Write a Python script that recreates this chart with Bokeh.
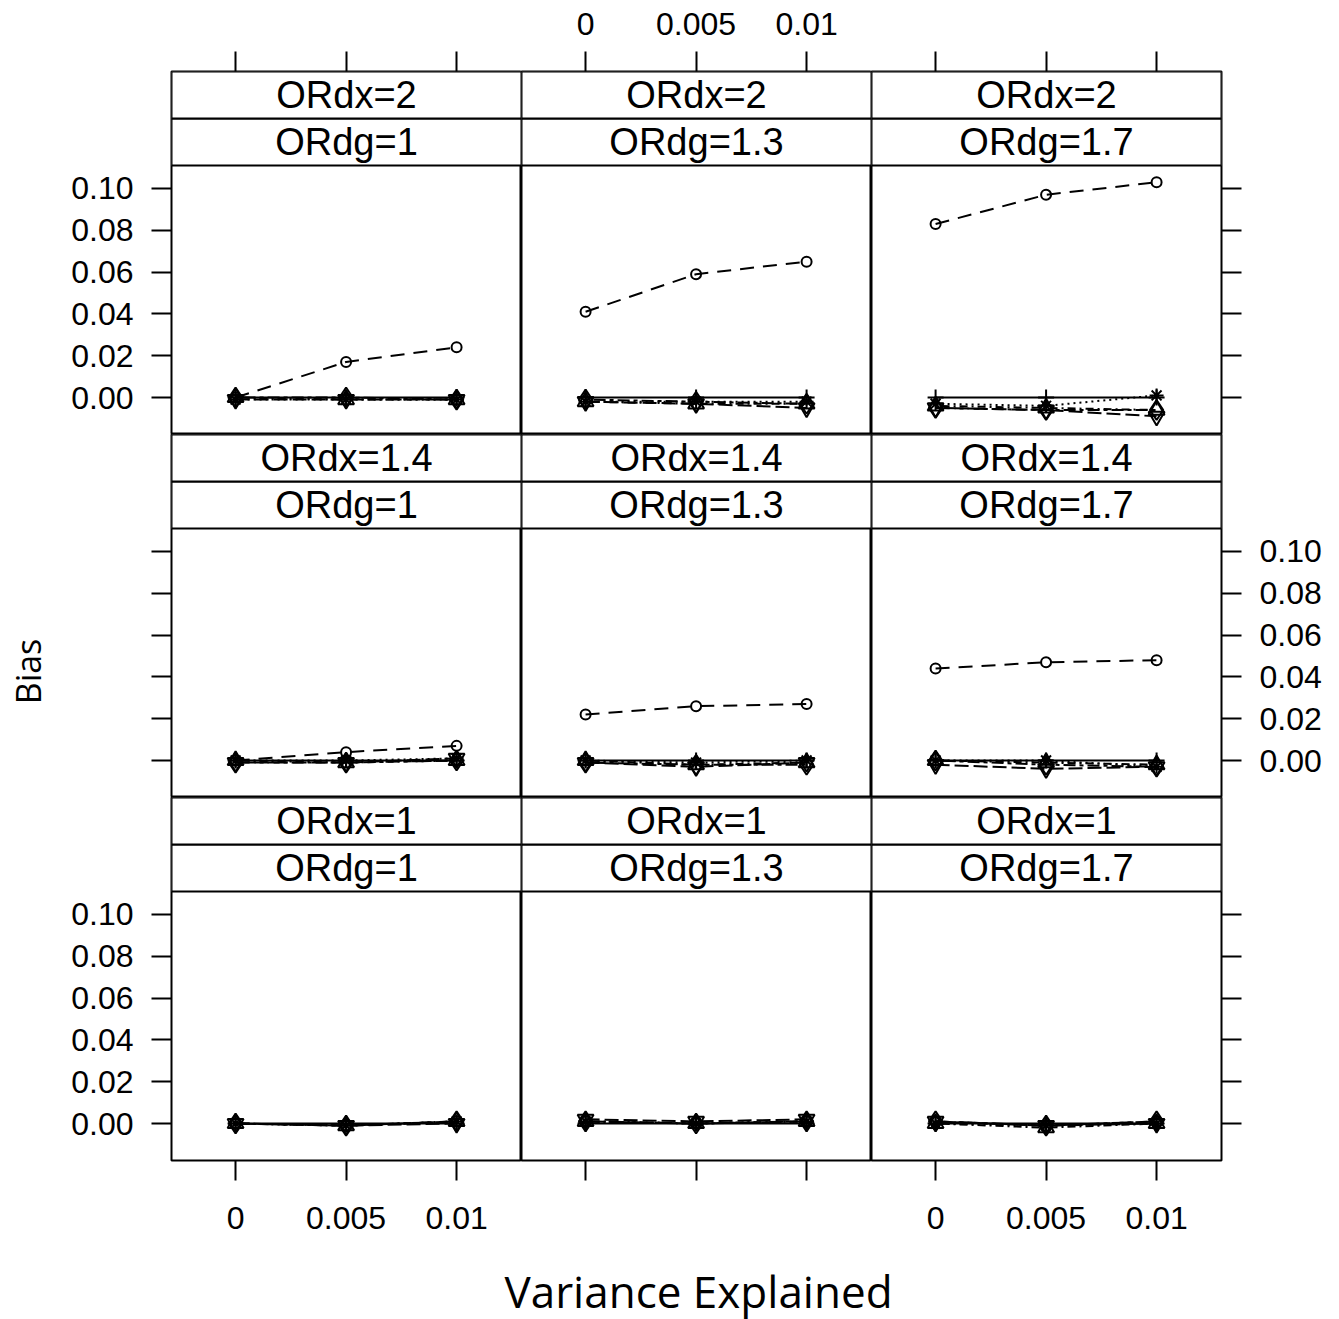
import math
from bokeh.plotting import figure
from bokeh.models import Range1d, LinearAxis, FixedTicker
from bokeh.layouts import gridplot, row, column
from bokeh.embed import file_html
from bokeh.resources import INLINE
from bokeh.core.properties import value

# ---------------- data ----------------
variance_explained = [0.0, 0.005, 0.01]
ordx_levels = ["2", "1.4", "1"]          # panel rows, top to bottom
ordg_levels = ["1", "1.3", "1.7"]        # panel columns, left to right
x_ticks = [0.0, 0.005, 0.01]
x_tick_labels = ["0", "0.005", "0.01"]
y_ticks = [0.0, 0.02, 0.04, 0.06, 0.08, 0.10]
y_tick_labels = ["0.00", "0.02", "0.04", "0.06", "0.08", "0.10"]
x_title = "Variance Explained"
y_title = "Bias"

# bias[row ORdx][col ORdg] -> values at variance_explained
bias_circle = [
    [[0.000, 0.017, 0.024], [0.041, 0.059, 0.065], [0.083, 0.097, 0.103]],
    [[0.000, 0.004, 0.007], [0.022, 0.026, 0.027], [0.044, 0.047, 0.048]],
    [[0.000, -0.001, 0.001], [0.001, 0.000, 0.001], [0.001, -0.001, 0.001]],
]
bias_plus = [
    [[0.000, 0.000, 0.000], [0.000, 0.000, 0.000], [0.000, 0.000, 0.000]],
    [[0.000, 0.000, 0.000], [0.000, 0.000, 0.000], [0.000, 0.000, 0.000]],
    [[0.000, 0.000, 0.000], [0.000, 0.000, 0.000], [0.000, 0.000, 0.000]],
]
bias_triangle = [
    [[0.000, -0.001, -0.001], [-0.002, -0.003, -0.003], [-0.004, -0.005, -0.006]],
    [[0.000, -0.001, 0.000], [0.000, -0.002, -0.001], [0.000, -0.001, -0.002]],
    [[0.000, -0.001, 0.001], [0.001, 0.000, 0.001], [0.000, -0.002, 0.000]],
]
bias_invtriangle = [
    [[-0.001, -0.001, -0.001], [-0.002, -0.003, -0.005], [-0.005, -0.006, -0.009]],
    [[-0.001, -0.001, 0.001], [-0.001, -0.003, -0.001], [-0.002, -0.004, -0.003]],
    [[0.000, -0.001, 0.000], [0.002, 0.001, 0.002], [0.001, -0.001, 0.000]],
]
bias_diamond = [
    [[0.000, 0.000, -0.001], [-0.001, -0.002, -0.003], [-0.005, -0.006, -0.006]],
    [[-0.001, -0.001, 0.000], [-0.001, -0.002, -0.002], [0.000, -0.002, -0.003]],
    [[0.000, -0.001, 0.001], [0.001, 0.000, 0.001], [0.001, -0.001, 0.001]],
]
bias_asterisk = [
    [[-0.001, -0.001, -0.001], [-0.002, -0.002, -0.002], [-0.003, -0.004, 0.001]],
    [[0.000, 0.000, 0.001], [0.000, -0.001, 0.000], [0.000, 0.000, -0.003]],
    [[0.000, -0.001, 0.001], [0.001, 0.000, 0.001], [0.000, -0.001, 0.000]],
]

# ---------------- styles ----------------
series = [
    (bias_circle, "circle", "14 9", 10),
    (bias_plus, "cross", "solid", 16),
    (bias_triangle, "triangle", "2 4 8 4", 16),
    (bias_invtriangle, "inverted_triangle", "14 5", 16),
    (bias_diamond, "diamond", "4 4 12 4", 20),
    (bias_asterisk, "asterisk", "2 4", 14),
]

YLAB_W = 60
FW = 350
FH = 363
STRIP = 47
PANEL = FH - 2 * STRIP
LEFT, RIGHT, TOP, BOTTOM = 171 - YLAB_W, 110, 71, 89
XLAB_H = 70
PX_X = 22100.0
X0 = -0.0029
X1 = X0 + FW / PX_X
Y0 = -0.0177
Y1 = Y0 + 0.1287 * FH / PANEL

TICK_FONT = "Liberation Sans"
TICK_SIZE = "32px"
STRIP_SIZE = "38px"
TITLE_FONT = "Open Sans"


def style_axis(ax, labels_on, is_x, standoff):
    ticks = x_ticks if is_x else y_ticks
    labs = x_tick_labels if is_x else y_tick_labels
    ax.ticker = FixedTicker(ticks=ticks)
    ax.major_label_overrides = {t: (l if labels_on else "") for t, l in zip(ticks, labs)}
    ax.major_tick_out = 20
    ax.major_tick_in = 0
    ax.minor_tick_out = 0
    ax.minor_tick_in = 0
    ax.major_tick_line_width = 2
    ax.major_tick_line_color = "black"
    ax.axis_line_color = None
    ax.major_label_text_font = TICK_FONT
    ax.major_label_text_font_size = TICK_SIZE if labels_on else "0px"
    ax.major_label_text_color = "black"
    ax.major_label_standoff = standoff


rows = []
for r in range(3):
    prow = []
    for c in range(3):
        w = FW + (LEFT if c == 0 else 0) + (RIGHT if c == 2 else 0)
        h = FH + (TOP if r == 0 else 0) + (BOTTOM if r == 2 else 0)
        p = figure(width=w, height=h,
                   x_range=Range1d(X0, X1), y_range=Range1d(Y0, Y1),
                   output_backend="svg", toolbar_location=None,
                   x_axis_location=None, y_axis_location=None,
                   min_border_left=LEFT if c == 0 else 0,
                   min_border_right=RIGHT if c == 2 else 0,
                   min_border_top=TOP if r == 0 else 0,
                   min_border_bottom=BOTTOM if r == 2 else 0)
        p.grid.visible = False
        p.outline_line_color = "black"
        p.outline_line_width = 2
        p.background_fill_color = "white"
        p.border_fill_color = "white"
        p.extra_x_ranges = {"sx": Range1d(0, 1)}
        p.extra_y_ranges = {"strip": Range1d(0, FH)}

        # strips
        p.quad(left=[0, 0], right=[1, 1], bottom=[PANEL, PANEL + STRIP],
               top=[PANEL + STRIP, FH], x_range_name="sx", y_range_name="strip",
               fill_color="white", line_color="black", line_width=2)
        p.text(x=[0.5, 0.5], y=[PANEL + STRIP / 2, PANEL + 1.5 * STRIP],
               text=["ORdg=" + ordg_levels[c], "ORdx=" + ordx_levels[r]],
               x_range_name="sx", y_range_name="strip",
               text_align="center", text_baseline="middle",
               text_font=value(TICK_FONT), text_font_size=STRIP_SIZE,
               text_color="black")

        # data
        for vals, marker, dash, size in series:
            p.line(variance_explained, vals[r][c], line_color="black",
                   line_width=2, line_dash=dash)
            p.scatter(variance_explained, vals[r][c], marker=marker, size=size,
                      fill_color=None, line_color="black", line_width=2)

        # axes
        if r == 0:
            ax = LinearAxis()
            style_axis(ax, c == 1, True, 17)
            p.add_layout(ax, "above")
        if r == 2:
            ax = LinearAxis()
            style_axis(ax, c != 1, True, 26)
            p.add_layout(ax, "below")
        if c == 0:
            ax = LinearAxis()
            style_axis(ax, r != 1, False, 18)
            p.add_layout(ax, "left")
        if c == 2:
            ax = LinearAxis()
            style_axis(ax, r == 1, False, 18)
            p.add_layout(ax, "right")
        prow.append(p)
    rows.append(prow)

grid = gridplot(rows, toolbar_location=None)

GRID_W = LEFT + 3 * FW + RIGHT
GRID_H = TOP + 3 * FH + BOTTOM

# y-axis title strip (left)
ylab = figure(width=YLAB_W, height=GRID_H, x_range=Range1d(0, YLAB_W),
              y_range=Range1d(GRID_H, 0), output_backend="svg",
              toolbar_location=None, x_axis_location=None, y_axis_location=None,
              min_border=0)
ylab.grid.visible = False
ylab.outline_line_color = None
ylab.text(x=[27], y=[671], text=[y_title], angle=math.pi / 2,
          text_align="center", text_baseline="middle",
          text_font=value(TITLE_FONT), text_font_size="34px", text_color="black")

# x-axis title strip (bottom)
xlab = figure(width=GRID_W, height=XLAB_H, x_range=Range1d(YLAB_W, YLAB_W + GRID_W),
              y_range=Range1d(GRID_H + XLAB_H, GRID_H), output_backend="svg",
              toolbar_location=None, x_axis_location=None, y_axis_location=None,
              min_border=0)
xlab.grid.visible = False
xlab.outline_line_color = None
xlab.text(x=[698], y=[1290], text=[x_title],
          text_align="center", text_baseline="middle",
          text_font=value(TITLE_FONT), text_font_size="44px", text_color="black")

layout = row(ylab, column(grid, xlab))
open("out.html", "w").write(file_html(layout, INLINE))
